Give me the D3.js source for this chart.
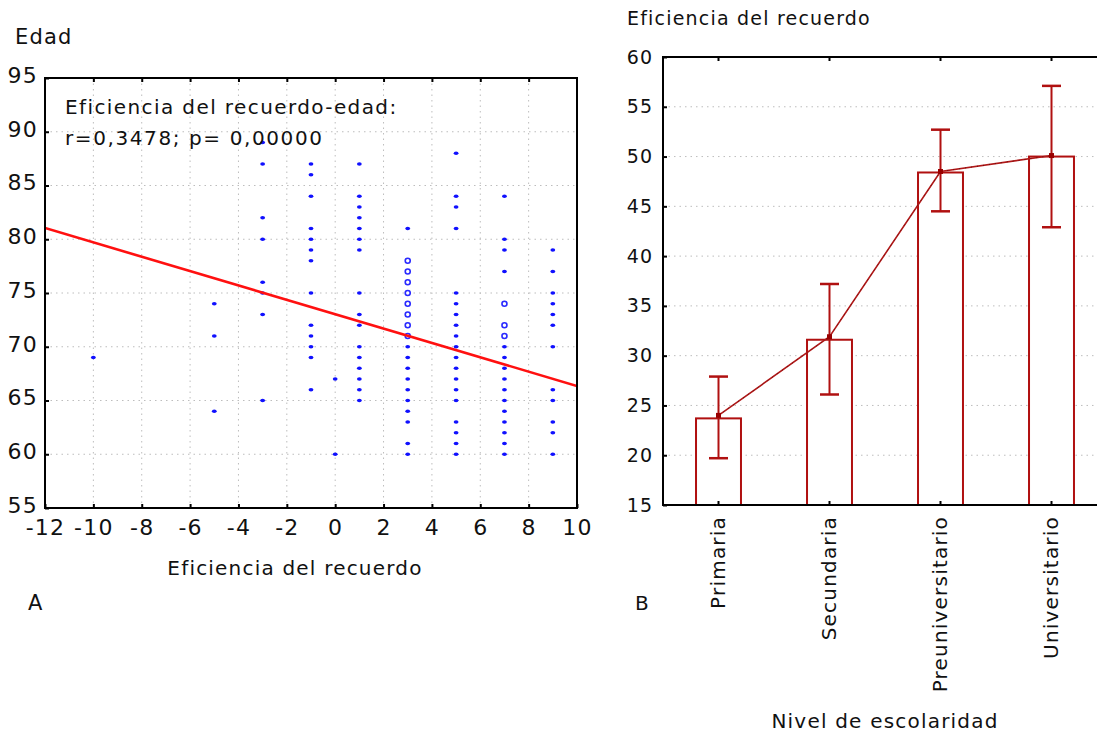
<!DOCTYPE html>
<html>
<head>
<meta charset="utf-8">
<script src="https://cdn.jsdelivr.net/npm/d3@7"></script>
<style>
  html, body { margin: 0; padding: 0; background: #fff; }
  svg { display: block; }
  text { font-family: "DejaVu Sans", Verdana, sans-serif; fill: #111; }
</style>
</head>
<body>
<svg id="chart" width="1097" height="733"></svg>
<script>
// ---------- Panel A data ----------
const eficienciaCols = [-10, -5, -3, -1, 0, 1, 3, 5, 7, 9];
const edadPuntos = [
  [69],
  [74, 71, 64],
  [89, 87, 82, 80, 76, 75, 73, 65],
  [87, 86, 84, 81, 80, 79, 78, 75, 72, 71, 70, 69, 66],
  [67, 60],
  [87, 84, 83, 82, 81, 80, 79, 75, 73, 72, 70, 69, 68, 67, 66, 65],
  [81, 70, 69, 68, 67, 66, 65, 64, 63, 61, 60],
  [88, 84, 83, 81, 75, 74, 73, 72, 71, 70, 69, 68, 67, 66, 65, 63, 62, 61, 60],
  [84, 80, 79, 77, 70, 69, 68, 67, 66, 65, 64, 63, 62, 61, 60],
  [79, 77, 75, 74, 73, 72, 70, 66, 65, 63, 62, 60]
];
const edadCirculos = [[], [], [], [], [], [], [78, 77, 76, 75, 74, 73, 72, 71], [], [74, 72, 71], []];
const regIntercepto = 73.03;
const regPendiente = -0.668;
const xTicksA = [-12, -10, -8, -6, -4, -2, 0, 2, 4, 6, 8, 10];
const yTicksA = [55, 60, 65, 70, 75, 80, 85, 90, 95];

// ---------- Panel B data ----------
const niveles = ["Primaria", "Secundaria", "Preuniversitario", "Universitario"];
const mediasBarra = [23.7, 31.6, 48.4, 50.0];
const mediasLinea = [24.0, 31.9, 48.5, 50.1];
const errSup = [27.9, 37.2, 52.7, 57.1];
const errInf = [19.7, 26.1, 44.5, 42.9];
const yTicksB = [15, 20, 25, 30, 35, 40, 45, 50, 55, 60];

const svg = d3.select("#chart");
const LS = "1.2px";

// ================= Panel A =================
const xA = d3.scaleLinear([-12, 10], [45, 577]);
const yA = d3.scaleLinear([55, 95], [508, 78]);
const gA = svg.append("g");

// grid
gA.append("g").selectAll("line").data(xTicksA.slice(1, -1)).join("line")
  .attr("x1", d => xA(d)).attr("x2", d => xA(d))
  .attr("y1", yA(95)).attr("y2", yA(55))
  .attr("stroke", "#bdbdbd").attr("stroke-width", 1).attr("stroke-dasharray", "1.5,4");
gA.append("g").selectAll("line").data(yTicksA.slice(1, -1)).join("line")
  .attr("x1", xA(-12)).attr("x2", xA(10))
  .attr("y1", d => yA(d)).attr("y2", d => yA(d))
  .attr("stroke", "#bdbdbd").attr("stroke-width", 1).attr("stroke-dasharray", "1.5,4");

// clip
svg.append("clipPath").attr("id", "clipA").append("rect")
  .attr("x", xA(-12)).attr("y", yA(95)).attr("width", xA(10) - xA(-12)).attr("height", yA(55) - yA(95));

// points
const pts = [];
eficienciaCols.forEach((x, i) => edadPuntos[i].forEach(y => pts.push({x, y})));
const circ = [];
eficienciaCols.forEach((x, i) => edadCirculos[i].forEach(y => circ.push({x, y})));

gA.append("g").selectAll("ellipse").data(pts).join("ellipse")
  .attr("cx", d => xA(d.x)).attr("cy", d => yA(d.y))
  .attr("rx", 2.4).attr("ry", 1.8).attr("fill", "#1010ff");
gA.append("g").selectAll("circle").data(circ).join("circle")
  .attr("cx", d => xA(d.x)).attr("cy", d => yA(d.y))
  .attr("r", 2.5).attr("fill", "#fff").attr("stroke", "#2a2aff").attr("stroke-width", 1.6);

// regression line
gA.append("line").attr("clip-path", "url(#clipA)")
  .attr("x1", xA(-12)).attr("y1", yA(regIntercepto + regPendiente * -12))
  .attr("x2", xA(10)).attr("y2", yA(regIntercepto + regPendiente * 10))
  .attr("stroke", "#ff1010").attr("stroke-width", 2.6);

// axes
const axA_b = gA.append("g").attr("transform", `translate(0,${yA(55)})`)
  .call(d3.axisBottom(xA).tickValues(xTicksA).tickFormat(d => String(d)).tickSize(-4).tickPadding(11));
const axA_t = gA.append("g").attr("transform", `translate(0,${yA(95)})`)
  .call(d3.axisTop(xA).tickValues(xTicksA.slice(1, -1)).tickFormat("").tickSize(-4));
const axA_l = gA.append("g").attr("transform", `translate(${xA(-12)},0)`)
  .call(d3.axisLeft(yA).tickValues(yTicksA).tickFormat(d => String(d)).tickSize(-4).tickPadding(7));
[axA_b, axA_t, axA_l].forEach(a => {
  a.select(".domain").remove();
  a.selectAll(".tick line").attr("stroke", "#000").attr("stroke-width", 2);
});
axA_b.selectAll("text").attr("font-size", 22).attr("letter-spacing", LS).attr("fill", "#111");
axA_l.selectAll("text").attr("font-size", 22).attr("letter-spacing", LS).attr("dy", "0.2em").attr("fill", "#111");

// frame
gA.append("rect").attr("x", xA(-12)).attr("y", yA(95))
  .attr("width", xA(10) - xA(-12)).attr("height", yA(55) - yA(95))
  .attr("fill", "none").attr("stroke", "#000").attr("stroke-width", 2);

// texts
gA.append("text").attr("x", 15).attr("y", 44).attr("font-size", 21).attr("letter-spacing", LS).text("Edad");
gA.append("text").attr("x", 65).attr("y", 114).attr("font-size", 20).attr("letter-spacing", "1.4px").text("Eficiencia del recuerdo-edad:");
gA.append("text").attr("x", 65).attr("y", 145).attr("font-size", 20).attr("letter-spacing", "1.6px").text("r=0,3478; p= 0,00000");
gA.append("text").attr("x", 295).attr("y", 575).attr("text-anchor", "middle").attr("font-size", 20).attr("letter-spacing", LS).text("Eficiencia del recuerdo");
gA.append("text").attr("x", 28).attr("y", 610).attr("font-size", 21).text("A");

// ================= Panel B =================
const xB = d3.scaleBand(niveles, [663, 1107]);
const yB = d3.scaleLinear([15, 60], [505, 57]);
const gB = svg.append("g");
const barW = xB.bandwidth() * 0.405;
const capW = 19;
const red = "#b01010";

gB.append("g").selectAll("line").data(yTicksB.slice(1, -1)).join("line")
  .attr("x1", 663).attr("x2", 1107)
  .attr("y1", d => yB(d)).attr("y2", d => yB(d))
  .attr("stroke", "#bdbdbd").attr("stroke-width", 1).attr("stroke-dasharray", "1.5,4");

const cx = d => xB(d) + xB.bandwidth() / 2;

gB.append("g").selectAll("rect").data(niveles).join("rect")
  .attr("x", d => cx(d) - barW / 2).attr("width", barW)
  .attr("y", (d, i) => yB(mediasBarra[i])).attr("height", (d, i) => yB(15) - yB(mediasBarra[i]))
  .attr("fill", "#fff").attr("stroke", red).attr("stroke-width", 2);

// error bars
const eb = gB.append("g").attr("stroke", red).attr("stroke-width", 2);
eb.selectAll(".v").data(niveles).join("line").attr("class", "v")
  .attr("x1", d => cx(d)).attr("x2", d => cx(d))
  .attr("y1", (d, i) => yB(errSup[i])).attr("y2", (d, i) => yB(errInf[i]));
eb.selectAll(".t").data(niveles).join("line").attr("class", "t")
  .attr("x1", d => cx(d) - capW / 2).attr("x2", d => cx(d) + capW / 2)
  .attr("y1", (d, i) => yB(errSup[i])).attr("y2", (d, i) => yB(errSup[i])).attr("stroke-width", 2.5);
eb.selectAll(".b").data(niveles).join("line").attr("class", "b")
  .attr("x1", d => cx(d) - capW / 2).attr("x2", d => cx(d) + capW / 2)
  .attr("y1", (d, i) => yB(errInf[i])).attr("y2", (d, i) => yB(errInf[i])).attr("stroke-width", 2.5);

// mean line
const lineGen = d3.line().x(d => cx(d)).y((d, i) => yB(mediasLinea[i]));
gB.append("path").datum(niveles).attr("d", lineGen)
  .attr("fill", "none").attr("stroke", "#b01818").attr("stroke-width", 1.6);
gB.append("path").datum(niveles).attr("d", lineGen)
  .attr("fill", "none").attr("stroke", "#300").attr("stroke-width", 1).attr("stroke-dasharray", "1,5").attr("opacity", 0.6);
gB.append("g").selectAll("rect").data(niveles).join("rect")
  .attr("x", d => cx(d) - 2.5).attr("y", (d, i) => yB(mediasLinea[i]) - 2.5)
  .attr("width", 5).attr("height", 5).attr("fill", "#900");

// axes
const axB_l = gB.append("g").attr("transform", "translate(663,0)")
  .call(d3.axisLeft(yB).tickValues(yTicksB).tickFormat(d => String(d)).tickSize(-4).tickPadding(10));
const axB_b = gB.append("g").attr("transform", `translate(0,${yB(15)})`)
  .call(d3.axisBottom(xB).tickSize(-4).tickPadding(11));
const axB_t = gB.append("g").attr("transform", `translate(0,${yB(60)})`)
  .call(d3.axisTop(xB).tickFormat("").tickSize(-4));
[axB_l, axB_b, axB_t].forEach(a => {
  a.select(".domain").remove();
  a.selectAll(".tick line").attr("stroke", "#000").attr("stroke-width", 2);
});
axB_l.selectAll("text").attr("font-size", 19).attr("letter-spacing", "1px").attr("fill", "#111");
axB_b.selectAll("text").attr("font-size", 20).attr("letter-spacing", LS).attr("fill", "#111")
  .attr("transform", "rotate(-90)").attr("text-anchor", "end")
  .attr("x", -11).attr("y", 0).attr("dy", "0.3em");

// frame
gB.append("rect").attr("x", 663).attr("y", yB(60))
  .attr("width", 1107 - 663).attr("height", yB(15) - yB(60))
  .attr("fill", "none").attr("stroke", "#000").attr("stroke-width", 2);

gB.append("text").attr("x", 627).attr("y", 25).attr("font-size", 19).attr("letter-spacing", LS).text("Eficiencia del recuerdo");
gB.append("text").attr("x", 885).attr("y", 728).attr("text-anchor", "middle").attr("font-size", 20).attr("letter-spacing", LS).text("Nivel de escolaridad");
gB.append("text").attr("x", 635).attr("y", 610).attr("font-size", 20).text("B");
</script>
</body>
</html>
